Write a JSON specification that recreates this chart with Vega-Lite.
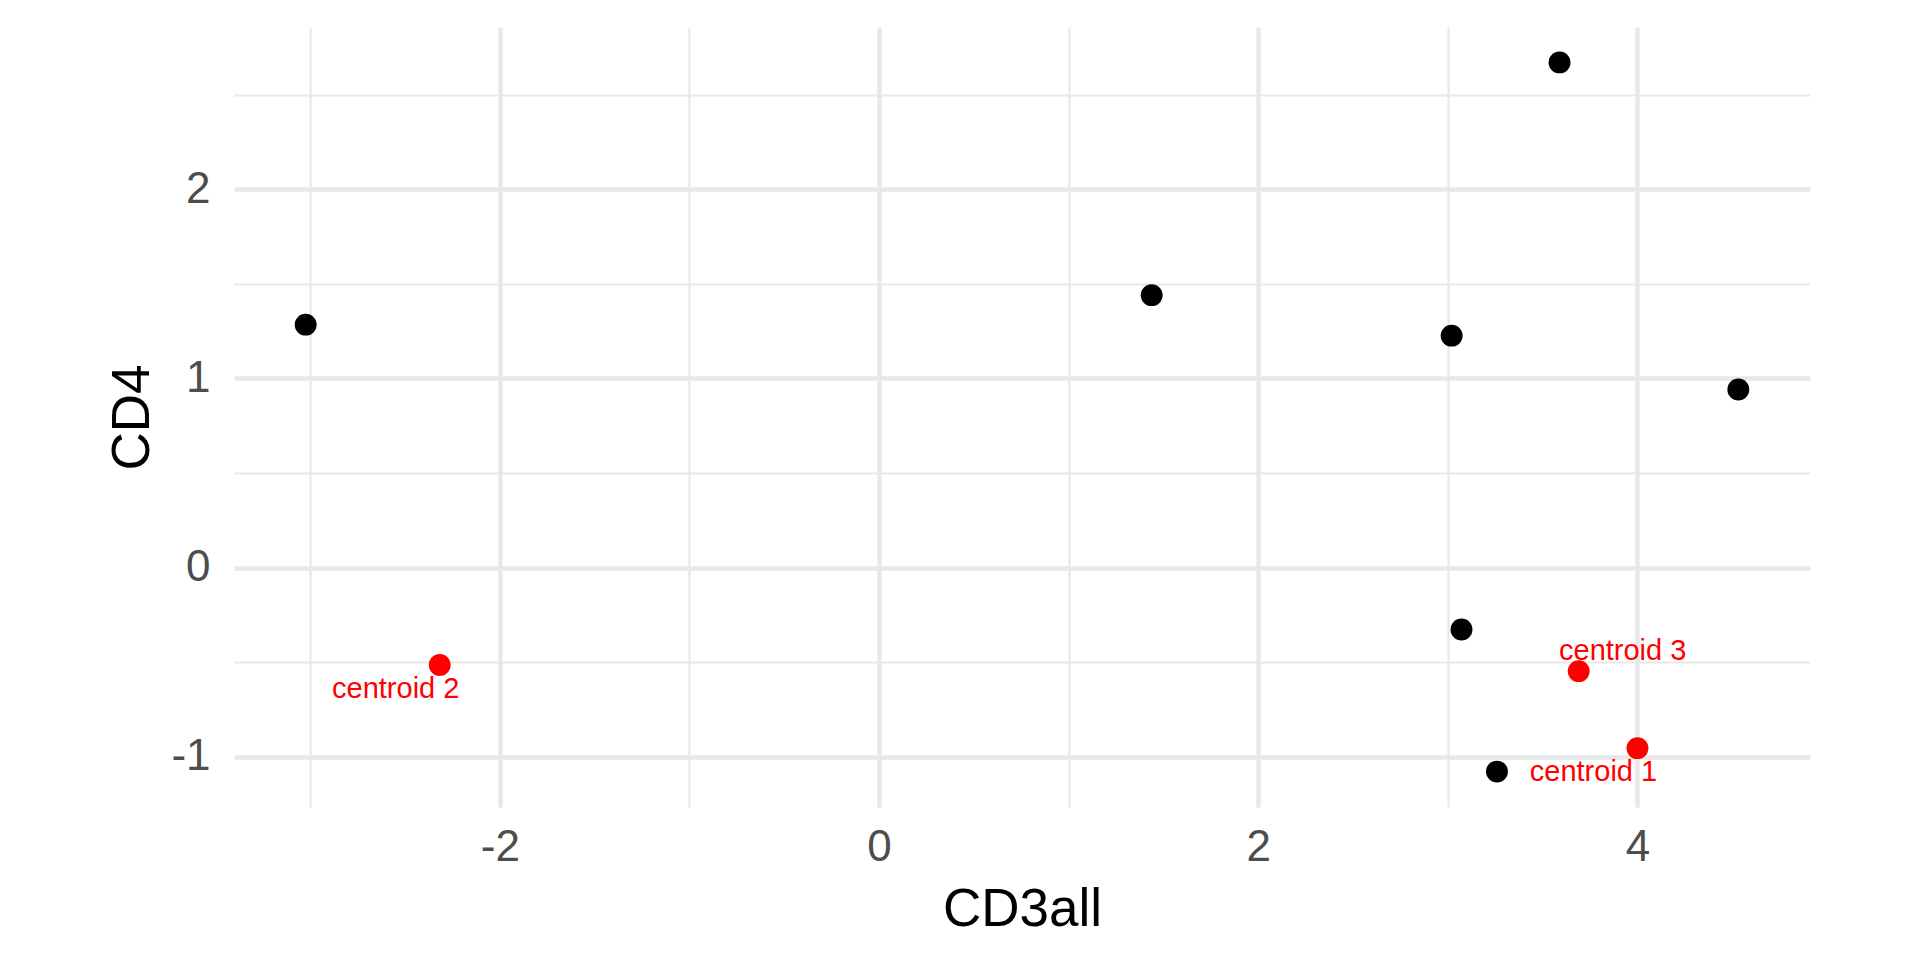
{
  "$schema": "https://vega.github.io/schema/vega-lite/v6.json",
  "width": 1576,
  "height": 780,
  "autosize": {"type": "none"},
  "padding": {"left": 234, "top": 27, "right": 110, "bottom": 153},
  "background": "white",
  "config": {
    "view": {"stroke": null},
    "font": "Liberation Sans",
    "axis": {
      "domain": false,
      "ticks": false,
      "gridColor": "#E8E8E8",
      "labelFont": "Liberation Sans",
      "titleFont": "Liberation Sans",
      "labelColor": "#4D4D4D",
      "titleColor": "#000000",
      "labelFontSize": 44,
      "titleFontSize": 53,
      "titleFontWeight": "normal"
    }
  },
  "data": {
    "values": [
      {"CD3all": -3.024, "CD4": 1.284, "type": "point", "label": ""},
      {"CD3all": 1.438, "CD4": 1.44, "type": "point", "label": ""},
      {"CD3all": 3.589, "CD4": 2.67, "type": "point", "label": ""},
      {"CD3all": 3.02, "CD4": 1.226, "type": "point", "label": ""},
      {"CD3all": 4.532, "CD4": 0.941, "type": "point", "label": ""},
      {"CD3all": 3.072, "CD4": -0.327, "type": "point", "label": ""},
      {"CD3all": 3.259, "CD4": -1.078, "type": "point", "label": ""},
      {"CD3all": 4.0, "CD4": -0.954, "type": "centroid", "label": "centroid 1"},
      {"CD3all": -2.317, "CD4": -0.515, "type": "centroid", "label": "centroid 2"},
      {"CD3all": 3.69, "CD4": -0.547, "type": "centroid", "label": "centroid 3"}
    ]
  },
  "encoding": {
    "x": {
      "field": "CD3all",
      "type": "quantitative",
      "title": "CD3all",
      "scale": {"domain": [-3.402, 4.91], "nice": false, "zero": false},
      "axis": {
        "values": [-3, -2, -1, 0, 1, 2, 3, 4],
        "labelExpr": "datum.value % 2 === 0 ? '' + datum.value : ''",
        "gridWidth": {"condition": {"test": "datum.value % 2 === 0", "value": 4.5}, "value": 2.2},
        "labelBaseline": "alphabetic",
        "labelPadding": 53,
        "titleBaseline": "alphabetic",
        "titleY": 118,
        "titleX": 788,
        "titleAnchor": "middle"
      }
    },
    "y": {
      "field": "CD4",
      "type": "quantitative",
      "title": "CD4",
      "scale": {"domain": [-1.265, 2.857], "nice": false, "zero": false},
      "axis": {
        "values": [-1, -0.5, 0, 0.5, 1, 1.5, 2, 2.5],
        "labelExpr": "datum.value % 1 === 0 ? '' + datum.value : ''",
        "gridWidth": {"condition": {"test": "datum.value % 1 === 0", "value": 4.5}, "value": 2.2},
        "labelPadding": 24,
        "labelBaseline": "middle",
        "titleAngle": -90,
        "titleBaseline": "alphabetic",
        "titleX": -86,
        "titleY": 390,
        "titleAlign": "center"
      }
    }
  },
  "layer": [
    {
      "mark": {"type": "circle", "opacity": 1, "size": 480},
      "encoding": {
        "color": {
          "field": "type",
          "type": "nominal",
          "scale": {"domain": ["point", "centroid"], "range": ["#000000", "#FF0000"]},
          "legend": null
        }
      }
    },
    {
      "transform": [{"filter": "datum.label === 'centroid 1'"}],
      "mark": {"type": "text", "color": "#FF0000", "fontSize": 29, "font": "Liberation Sans", "align": "center", "baseline": "middle", "dx": -44, "dy": 24},
      "encoding": {"text": {"field": "label"}}
    },
    {
      "transform": [{"filter": "datum.label === 'centroid 2'"}],
      "mark": {"type": "text", "color": "#FF0000", "fontSize": 29, "font": "Liberation Sans", "align": "center", "baseline": "middle", "dx": -44, "dy": 24},
      "encoding": {"text": {"field": "label"}}
    },
    {
      "transform": [{"filter": "datum.label === 'centroid 3'"}],
      "mark": {"type": "text", "color": "#FF0000", "fontSize": 29, "font": "Liberation Sans", "align": "center", "baseline": "middle", "dx": 44, "dy": -20},
      "encoding": {"text": {"field": "label"}}
    }
  ]
}
